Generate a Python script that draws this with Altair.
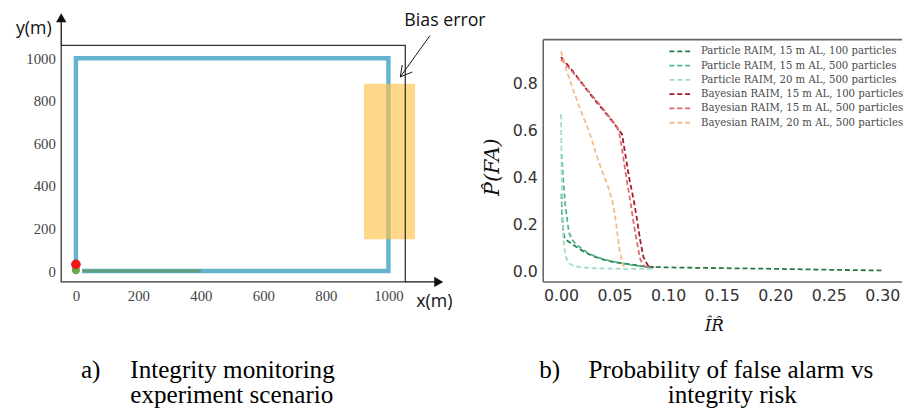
import altair as alt
import pandas as pd

# ---------------- left panel: scenario ----------------
LX = [-47, 1180]
LY = [-51, 1213]
left_ticks = [0, 200, 400, 600, 800, 1000]

path_x = [0, 0, 1000, 1000, 20]
path_y = [30, 1000, 1000, 0, 0]
green_x = [20, 400]
green_y = [0, 0]
red_dot = [0, 32]
green_dot = [0, 5]
bias_x = [922, 1085]
bias_y = [150, 880]
frame_lx = [-47, 1054]
frame_ly = [-51, 1060]

# axis arrows (x, y, x2, y2)
arrow_lines = [[-47, 1060, -47, 1190], [1054, -51, 1161, -51]]
arrow_heads = [[-47, 1190, "triangle-up"], [1161, -51, "triangle-right"]]
# pointer to bias
pointer = [[1133, 1106, 1038, 912], [1038, 912, 1076, 935], [1038, 912, 1044, 968]]

left_texts = [["y(m)", -192, 1116], ["x(m)", 1089, -171], ["Bias error", 1051, 1153]]
cap_a = [["a)", 16, -500], ["Integrity monitoring", 174, -500], ["experiment scenario", 174, -618]]

# ---------------- right panel: P(FA) vs IR ----------------
RX = [-0.0166, 0.3184]
RY = [-0.046, 1.1035]
rx_ticks = [0, 0.05, 0.10, 0.15, 0.20, 0.25, 0.30]
ry_ticks = [0, 0.2, 0.4, 0.6, 0.8]

series = [
    "Particle RAIM, 15 m AL, 100 particles",
    "Particle RAIM, 15 m AL, 500 particles",
    "Particle RAIM, 20 m AL, 500 particles",
    "Bayesian RAIM, 15 m AL, 100 particles",
    "Bayesian RAIM, 15 m AL, 500 particles",
    "Bayesian RAIM, 20 m AL, 500 particles",
]
colors = ["#237a48", "#55b48c", "#9fdcc9", "#a2182b", "#dc6a6a", "#f5bb86"]

p15_100_x = [0.0005, 0.001, 0.002, 0.003, 0.006, 0.011, 0.017, 0.023, 0.03, 0.039, 0.05, 0.063, 0.075, 0.085, 0.1, 0.15, 0.2, 0.25, 0.3]
p15_100_y = [0.33, 0.24, 0.18, 0.147, 0.13, 0.114, 0.095, 0.08, 0.064, 0.05, 0.038, 0.03, 0.022, 0.018, 0.016, 0.013, 0.01, 0.006, 0.003]
p15_500_x = [0.0005, 0.002, 0.004, 0.0074, 0.011, 0.0166, 0.025, 0.032, 0.042, 0.053, 0.065, 0.078, 0.087]
p15_500_y = [0.5, 0.4, 0.28, 0.165, 0.13, 0.105, 0.078, 0.063, 0.048, 0.038, 0.027, 0.018, 0.016]
p20_500_x = [0.0, 0.0005, 0.001, 0.002, 0.003, 0.005, 0.008, 0.012, 0.02, 0.04, 0.06, 0.085]
p20_500_y = [0.67, 0.45, 0.3, 0.17, 0.1, 0.055, 0.032, 0.022, 0.015, 0.011, 0.01, 0.01]
b15_100_x = [0.0, 0.01, 0.02, 0.03, 0.04, 0.048, 0.053, 0.057, 0.06, 0.064, 0.068, 0.071, 0.074, 0.077, 0.081, 0.086]
b15_100_y = [0.915, 0.86, 0.8, 0.74, 0.685, 0.64, 0.61, 0.585, 0.5, 0.39, 0.3, 0.22, 0.13, 0.06, 0.025, 0.016]
b15_500_x = [0.0, 0.01, 0.02, 0.03, 0.04, 0.05, 0.054, 0.057, 0.061, 0.065, 0.068, 0.071, 0.074, 0.078, 0.083]
b15_500_y = [0.905, 0.855, 0.8, 0.745, 0.69, 0.63, 0.6, 0.52, 0.4, 0.29, 0.2, 0.12, 0.05, 0.02, 0.016]
b20_500_x = [0.0, 0.005, 0.011, 0.018, 0.026, 0.035, 0.044, 0.048, 0.051, 0.053, 0.055, 0.058, 0.061]
b20_500_y = [0.94, 0.86, 0.78, 0.69, 0.6, 0.47, 0.36, 0.3, 0.22, 0.15, 0.08, 0.025, 0.012]

right_frame = [[-0.0166, 0.989, 0.3184, 0.989], [-0.0166, -0.046, 0.3184, -0.046], [-0.0166, -0.046, -0.0166, 0.989]]
cap_b = [["b)", -0.0203, -0.4544, "left"], ["Probability of false alarm vs", 0.0257, -0.4544, "left"],
         ["integrity risk", 0.160, -0.5618, "center"]]

CAP_SIZE = 25.5

# ---------------- build left ----------------
lax = alt.Axis(values=left_ticks, format="d", domain=False, ticks=False, grid=False, title=None,
               labelFont="Liberation Serif", labelFontSize=15, labelColor="#444", labelPadding=7)
lay = alt.Axis(values=left_ticks, format="d", domain=False, ticks=False, grid=False, title=None,
               labelFont="Liberation Serif", labelFontSize=15, labelColor="#444", labelPadding=6)


def LXe(f="x"):
    return alt.X(f"{f}:Q", scale=alt.Scale(domain=LX, nice=False, zero=False), axis=lax)


def LYe(f="y"):
    return alt.Y(f"{f}:Q", scale=alt.Scale(domain=LY, nice=False, zero=False), axis=lay)


path_df = pd.DataFrame({"x": path_x, "y": path_y, "o": list(range(len(path_x)))})
green_df = pd.DataFrame({"x": green_x, "y": green_y, "o": [0, 1]})

blue = alt.Chart(path_df).mark_line(color="#64b4cd", strokeWidth=4.5, strokeJoin="miter").encode(
    x=LXe(), y=LYe(), order="o:Q")
green = alt.Chart(green_df).mark_line(color="#5d9f80", strokeWidth=3).encode(
    x=LXe(), y=LYe(), order="o:Q")
gdot = alt.Chart(pd.DataFrame({"x": [green_dot[0]], "y": [green_dot[1]]})).mark_circle(
    color="#66a84a", size=70, opacity=1).encode(x=LXe(), y=LYe())
rdot = alt.Chart(pd.DataFrame({"x": [red_dot[0]], "y": [red_dot[1]]})).mark_circle(
    color="#f01414", size=95, opacity=1).encode(x=LXe(), y=LYe())
bias = alt.Chart(pd.DataFrame({"x": [bias_x[0]], "x2": [bias_x[1]], "y": [bias_y[0]], "y2": [bias_y[1]]})).mark_rect(
    color="#ffc24a", opacity=0.65).encode(x=LXe(), x2="x2:Q", y=LYe(), y2="y2:Q")
frame = alt.Chart(pd.DataFrame({"x": [frame_lx[0]], "x2": [frame_lx[1]], "y": [frame_ly[0]], "y2": [frame_ly[1]]})).mark_rect(
    fillOpacity=0, stroke="#333", strokeWidth=1.3).encode(x=LXe(), x2="x2:Q", y=LYe(), y2="y2:Q")
al_df = pd.DataFrame(arrow_lines, columns=["x", "y", "x2", "y2"])
alines = alt.Chart(al_df).mark_rule(color="#111", strokeWidth=1.3).encode(x=LXe(), y=LYe(), x2="x2:Q", y2="y2:Q")
ah_df = pd.DataFrame(arrow_heads, columns=["x", "y", "shape"])
aheads = alt.Chart(ah_df).mark_point(filled=True, color="#111", size=110, opacity=1).encode(
    x=LXe(), y=LYe(), shape=alt.Shape("shape:N", scale=None))
pt_df = pd.DataFrame(pointer, columns=["x", "y", "x2", "y2"])
ptr = alt.Chart(pt_df).mark_rule(color="#111", strokeWidth=1).encode(x=LXe(), y=LYe(), x2="x2:Q", y2="y2:Q")
lt_df = pd.DataFrame(left_texts, columns=["t", "x", "y"])
ltext = alt.Chart(lt_df).mark_text(align="left", baseline="alphabetic", font="Open Sans", fontSize=18,
                                   color="#111").encode(x=LXe(), y=LYe(), text="t:N")
ca_df = pd.DataFrame(cap_a, columns=["t", "x", "y"])
capa = alt.Chart(ca_df).mark_text(align="left", baseline="alphabetic", font="Liberation Serif", fontSize=CAP_SIZE,
                                  color="#000").encode(x=LXe(), y=LYe(), text="t:N")

left = alt.layer(blue, green, gdot, rdot, bias, frame, alines, aheads, ptr, ltext, capa).properties(
    width=389, height=273)

# ---------------- build right ----------------
rax = alt.Axis(values=rx_ticks, format=".2f", domain=False, ticks=False, grid=False,
               labelFont="DejaVu Sans", labelFontSize=16, labelColor="#333", labelPadding=6,
               title="I\u0302R\u0302", titleFont="DejaVu Serif", titleFontStyle="italic", titleFontSize=17,
               titleFontWeight="normal", titleColor="#111", titleX=173, titleY=49,
               titleAlign="center", titleBaseline="alphabetic")
ray = alt.Axis(values=ry_ticks, format=".1f", domain=False, ticks=False, grid=False,
               labelFont="DejaVu Sans", labelFontSize=16, labelColor="#333", labelPadding=6,
               title="P\u0302(FA)", titleFont="DejaVu Serif", titleFontStyle="italic", titleFontSize=21,
               titleFontWeight="normal", titleColor="#111", titleX=-51, titleY=156,
               titleAlign="center", titleBaseline="middle", titleAngle=270)


def RXe(f="x"):
    return alt.X(f"{f}:Q", scale=alt.Scale(domain=RX, nice=False, zero=False), axis=rax)


def RYe(f="y"):
    return alt.Y(f"{f}:Q", scale=alt.Scale(domain=RY, nice=False, zero=False), axis=ray)


rows = []
for name, xs, ys in zip(series,
                        [p15_100_x, p15_500_x, p20_500_x, b15_100_x, b15_500_x, b20_500_x],
                        [p15_100_y, p15_500_y, p20_500_y, b15_100_y, b15_500_y, b20_500_y]):
    for i, (a, b) in enumerate(zip(xs, ys)):
        rows.append({"x": a, "y": b, "series": name, "o": i})
curves_df = pd.DataFrame(rows)

curves = alt.Chart(curves_df).mark_line(strokeDash=[5, 3], strokeWidth=1.8).encode(
    x=RXe(), y=RYe(), order="o:Q",
    color=alt.Color("series:N", scale=alt.Scale(domain=series, range=colors),
                    legend=alt.Legend(title=None, orient="none", legendX=127, legendY=33,
                                      symbolType="stroke", symbolDash=[5, 3], symbolStrokeWidth=1.8,
                                      symbolSize=484, clipHeight=12, rowPadding=2.5, labelOffset=9,
                                      labelFont="DejaVu Serif", labelFontSize=10.3, labelColor="#4a4a4a",
                                      padding=0, labelLimit=400)))
rf_df = pd.DataFrame(right_frame, columns=["x", "y", "x2", "y2"])
rframe = alt.Chart(rf_df).mark_rule(color="#666", strokeWidth=1.6).encode(x=RXe(), y=RYe(), x2="x2:Q", y2="y2:Q")
cb_df = pd.DataFrame(cap_b, columns=["t", "x", "y", "al"])
capb_l = alt.Chart(cb_df[cb_df.al == "left"]).mark_text(align="left", baseline="alphabetic",
                                                        font="Liberation Serif", fontSize=CAP_SIZE, color="#000").encode(
    x=RXe(), y=RYe(), text="t:N")
capb_c = alt.Chart(cb_df[cb_df.al == "center"]).mark_text(align="center", baseline="alphabetic",
                                                          font="Liberation Serif", fontSize=CAP_SIZE, color="#000").encode(
    x=RXe(), y=RYe(), text="t:N")

right = alt.layer(rframe, curves, capb_l, capb_c).properties(width=364, height=273)

chart = alt.hconcat(left, right, spacing=100, bounds="flush").resolve_legend(color="independent").properties(
    padding={"left": 8, "top": 0, "right": 0, "bottom": 0}
).configure_view(strokeWidth=0)

chart.save("out.html", embed_options={"renderer": "svg", "actions": False})
